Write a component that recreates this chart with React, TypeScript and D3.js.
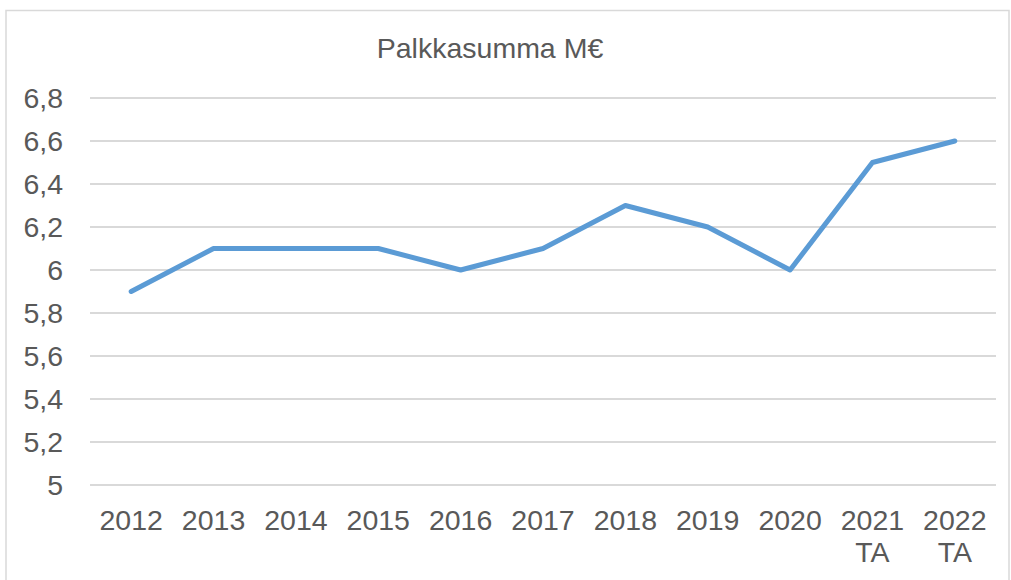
import React, { useRef, useEffect } from "react";
import * as d3 from "d3";

const categories = ["2012", "2013", "2014", "2015", "2016", "2017", "2018", "2019", "2020", "2021\nTA", "2022\nTA"];
const values = [5.9, 6.1, 6.1, 6.1, 6.0, 6.1, 6.3, 6.2, 6.0, 6.5, 6.6];
const yTicks = [5, 5.2, 5.4, 5.6, 5.8, 6, 6.2, 6.4, 6.6, 6.8];

const W = 1011;
const H = 580;
const FONT = "'Liberation Sans', Arial, sans-serif";
const TEXT = "#595959";

export default function App() {
  const svgRef = useRef<SVGSVGElement>(null);

  useEffect(() => {
    if (!svgRef.current) return;
    const svg = d3.select(svgRef.current);
    svg.selectAll("*").remove();

    svg.append("rect").attr("width", W).attr("height", H).attr("fill", "white");
    // chart border
    svg
      .append("rect")
      .attr("x", 6)
      .attr("y", 10.5)
      .attr("width", 1003)
      .attr("height", 600)
      .attr("fill", "none")
      .attr("stroke", "#d9d9d9")
      .attr("stroke-width", 1.5);

    const x = d3.scaleBand().domain(categories).range([90, 996]);
    const y = d3.scaleLinear().domain([5, 6.8]).range([485, 98]);

    // gridlines
    svg
      .append("g")
      .selectAll("line")
      .data(yTicks)
      .join("line")
      .attr("x1", 90)
      .attr("x2", 996)
      .attr("y1", (d) => y(d))
      .attr("y2", (d) => y(d))
      .attr("stroke", "#d9d9d9")
      .attr("stroke-width", 2);

    // y labels
    svg
      .append("g")
      .selectAll("text")
      .data(yTicks)
      .join("text")
      .attr("x", 63)
      .attr("y", (d) => y(d))
      .attr("dy", "0.36em")
      .attr("text-anchor", "end")
      .attr("font-family", FONT)
      .attr("font-size", 28.5)
      .attr("fill", TEXT)
      .text((d) => String(d).replace(".", ","));

    // x labels
    const xl = svg
      .append("g")
      .selectAll("text")
      .data(categories)
      .join("text")
      .attr("x", (d) => x(d)! + x.bandwidth() / 2)
      .attr("y", 530)
      .attr("text-anchor", "middle")
      .attr("font-family", FONT)
      .attr("font-size", 28.5)
      .attr("fill", TEXT);
    xl.selectAll("tspan")
      .data((d) => d.split("\n").map((t) => ({ t, c: d })))
      .join("tspan")
      .attr("x", (d) => x(d.c)! + x.bandwidth() / 2)
      .attr("dy", (_, i) => (i === 0 ? 0 : 32))
      .text((d) => d.t);

    // line
    const line = d3
      .line<number>()
      .x((_, i) => x(categories[i])! + x.bandwidth() / 2)
      .y((d) => y(d));
    svg
      .append("path")
      .datum(values)
      .attr("d", line)
      .attr("fill", "none")
      .attr("stroke", "#5b9bd5")
      .attr("stroke-width", 5)
      .attr("stroke-linecap", "round")
      .attr("stroke-linejoin", "round");

    // title
    svg
      .append("text")
      .attr("x", 490)
      .attr("y", 58)
      .attr("text-anchor", "middle")
      .attr("font-family", FONT)
      .attr("font-size", 28.5)
      .attr("fill", TEXT)
      .text("Palkkasumma M€");
  }, []);

  return (
    <svg
      ref={svgRef}
      width={W}
      height={H}
      style={{ position: "absolute", left: 0, top: 0 }}
    ></svg>
  );
}
